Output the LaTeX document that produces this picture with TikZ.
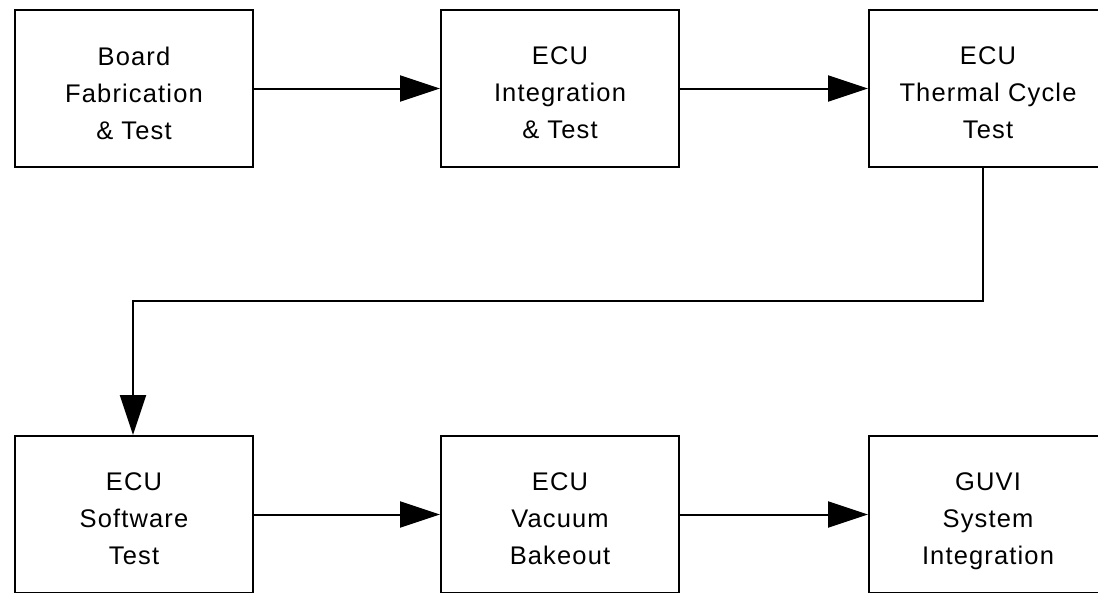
\documentclass[tikz,border=0pt]{standalone}
\usepackage{fontspec}
\setmainfont{Liberation Sans}[LetterSpace=4.5]
\usetikzlibrary{arrows.meta}
\newcommand{\lastline}[1]{#1\vphantom{g}}
\begin{document}
\begin{tikzpicture}[x=1pt,y=-1pt,
  stage/.style={draw, line width=2pt, minimum width=238pt, minimum height=157pt, inner sep=0pt},
  lbl/.style={align=center, inner sep=0pt, font=\fontsize{25.5}{37}\selectfont},
  arr/.style={line width=2pt, -{Triangle[length=40pt,width=26pt]}}]
\useasboundingbox (0,0) rectangle (1098,592);
\clip (0,0) rectangle (1098,592);
\node[stage] (b1) at (134,88.5) {};
\node[stage] (b2) at (560,88.5) {};
\node[stage] (b3) at (988,88.5) {};
\node[stage] (b4) at (134,514.5) {};
\node[stage] (b5) at (560,514.5) {};
\node[stage] (b6) at (988,514.5) {};
\node[lbl] (t1) at ([yshift=-7pt]b1.center) {Board\\Fabrication\\\lastline{\& Test}};
\node[lbl] (t2) at ([yshift=-7pt]b2.center) {ECU\\Integration\\\lastline{\& Test}};
\node[lbl] (t3) at ([yshift=-7pt]b3.center) {ECU\\Thermal Cycle\\\lastline{Test}};
\node[lbl] (t4) at ([yshift=-7pt]b4.center) {ECU\\Software\\\lastline{Test}};
\node[lbl] (t5) at ([yshift=-7pt]b5.center) {ECU\\Vacuum\\\lastline{Bakeout}};
\node[lbl] (t6) at ([yshift=-7pt]b6.center) {GUVI\\System\\\lastline{Integration}};
\draw[arr] (b1) -- (b2);
\draw[arr] (b2) -- (b3);
\draw[arr] (b4) -- (b5);
\draw[arr] (b5) -- (b6);
\coordinate (c1) at (983,301);
\coordinate (c2) at (133,301);
\draw[arr] (b3.south -| c1) -- (c1) -- (c2) -- (b4.north -| c2);
\end{tikzpicture}
\end{document}
